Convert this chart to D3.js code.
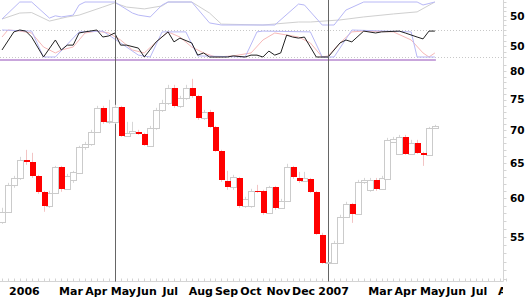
<!DOCTYPE html>
<html>
<head>
<meta charset="utf-8">
<script src="https://cdn.jsdelivr.net/npm/d3@7"></script>
<style>
body { margin: 0; background: #fff; }
svg { display: block; }
text { font-family: "DejaVu Sans", Verdana, sans-serif; font-weight: bold; font-size: 10.5px; fill: #000; }
text.month { font-size: 11px; }
</style>
</head>
<body>
<script>
const width = 526, height = 297;

// weekly bars, Mondays from 26 Dec 2005
const weeks = d3.timeMonday.range(new Date(2005, 11, 26), new Date(2007, 4, 22));

const open  = [56.91,58.22,61.87,62.85,65.46,65.17,63.14,60.91,59.02,60.77,64.43,61.32,62.57,63.57,67.42,67.87,69.73,73.62,71.33,71.33,
               73.78,69.11,69.58,69.73,69.42,67.57,70.37,73.28,74.45,77.02,73.95,75.30,77.02,75.64,71.97,72.95,70.52,66.81,62.43,61.59,
               62.85,59.02,59.02,61.04,61.04,58.09,61.59,58.75,59.68,64.43,62.85,62.43,62.71,60.91,55.27,51.89,51.89,54.28,57.57,59.28,
               57.96,62.29,61.18,62.57,61.32,62.71,68.18,66.36,68.95,66.36,68.03,66.51,66.21,70.37];
const high  = [58.75,62.15,63.14,65.91,66.96,66.51,63.29,61.04,61.04,64.58,64.58,63.43,63.86,67.57,68.18,70.05,73.95,73.95,74.96,74.12,
               73.95,71.33,71.33,70.05,69.58,70.68,73.62,74.96,77.54,77.54,75.64,77.54,78.60,75.81,73.28,73.28,70.68,66.96,63.86,63.29,
               63.00,60.22,61.32,61.87,61.18,61.73,61.73,59.95,64.88,64.58,63.71,63.71,62.85,61.04,55.52,52.00,54.53,57.83,59.55,59.41,
               62.57,62.85,62.85,62.85,63.14,68.80,68.95,69.26,69.26,68.49,68.49,66.66,70.52,70.85];
const low   = [56.66,58.09,61.46,62.57,64.73,62.85,60.63,58.22,58.75,60.63,60.91,61.18,62.15,63.43,66.96,67.57,69.58,71.01,71.01,71.01,
               68.95,68.95,69.42,69.26,67.57,67.42,70.05,72.95,74.12,73.62,73.62,74.96,75.30,71.65,71.65,70.37,66.66,62.29,61.18,61.18,
               58.75,58.75,58.75,60.77,57.83,57.96,58.48,58.62,59.55,62.71,62.15,62.29,60.77,55.27,51.78,51.78,51.78,54.16,57.44,56.78,
               57.83,62.01,60.91,61.04,61.18,62.57,68.03,66.21,66.21,66.21,66.36,64.58,66.06,70.21];
const close = [58.22,61.87,62.85,65.46,65.17,63.14,60.91,59.02,60.77,64.43,61.32,63.14,63.71,67.42,67.87,69.73,73.62,71.33,71.40,73.78,
               69.11,69.58,69.89,69.42,67.72,70.37,73.28,74.45,77.02,73.95,75.30,77.02,75.64,71.97,72.95,70.52,66.81,62.57,61.59,63.00,
               59.02,59.95,61.04,60.91,58.09,61.59,58.75,59.68,64.43,63.00,62.43,62.85,60.91,55.39,51.89,51.95,54.28,57.57,59.28,57.96,
               62.29,62.57,62.57,61.32,62.85,68.49,68.64,68.95,66.36,68.03,66.51,66.21,70.37,70.68];

// upper panel: [week index, value 0-100]
const upperBlue = [[0,26],[3,100],[5,100],[8,30],[9,40],[10,35],[12,43],[13,87],[14,100],[19,100],[22,52],[23,43],[25,35],[27,87],
                   [28,100],[32,100],[35,9],[37,0],[46,0],[50,91],[51,87],[54,0],[56,0],[58,65],[61,100],[70,100],[71,87],[73,100]];
const upperGray = [[0,26],[3,52],[5,54],[8,17],[11,35],[13,43],[17,78],[19,96],[21,78],[24,70],[27,83],[28,100],[32,100],[35,52],
                   [37,4],[44,0],[50,13],[52,13],[57,22],[61,35],[66,48],[70,57],[73,100]];
// lower panel
const lowerBlack = [[0,26],[2,93],[3,100],[4,96],[5,74],[7,0],[9,63],[10,26],[11,44],[12,44],[13,89],[14,93],[16,100],[17,74],
                    [18,78],[19,89],[20,44],[21,44],[23,33],[24,0],[26,56],[28,93],[29,56],[30,70],[32,52],[33,7],[34,15],[35,0],
                    [38,0],[39,4],[41,0],[42,7],[43,7],[44,0],[45,22],[46,7],[47,15],[48,81],[49,74],[50,70],[51,74],[53,0],
                    [55,0],[57,52],[58,63],[59,56],[61,96],[63,89],[64,93],[67,96],[68,89],[70,74],[71,67],[72,96],[73,96]];
const lowerBlue = [[0,100],[5,96],[7,0],[9,0],[13,93],[17,96],[20,52],[23,7],[25,0],[27,93],[31,93],[33,4],[41,0],[43,93],
                   [44,96],[52,93],[54,0],[56,0],[59,100],[69,93],[70,0],[73,0]];
const lowerPink = [[0,74],[1,100],[3,96],[5,89],[7,37],[9,15],[10,26],[12,37],[14,89],[16,96],[18,89],[20,63],[22,26],[24,15],
                   [26,56],[28,93],[30,74],[32,37],[34,15],[36,0],[39,4],[42,15],[44,63],[46,89],[50,74],[52,52],[54,0],[55,4],
                   [57,52],[59,93],[61,96],[66,93],[69,63],[71,15],[72,0],[73,15]];

const priceTicks = [80, 75, 70, 65, 60, 55];
const monthDates = ["2006-01-01","2006-03-01","2006-04-01","2006-05-01","2006-06-01","2006-07-01","2006-08-01","2006-09-01",
                    "2006-10-01","2006-11-01","2006-12-01","2007-01-01","2007-03-01","2007-04-01","2007-05-01","2007-06-01",
                    "2007-07-01","2007-08-01"];
const monthLabels = ["2006","Mar","Apr","May","Jun","Jul","Aug","Sep","Oct","Nov","Dec","2007","Mar","Apr","May","Jun","Jul","Aug"];
const markerWeeks = [19, 55];

const svg = d3.select("body").append("svg").attr("width", width).attr("height", height);

const x = d3.scaleTime()
  .domain([new Date(2005, 11, 26), new Date(2007, 7, 6)])
  .range([2, 2 + 84 * 5.93]);
const y = d3.scaleLog().domain([55, 80]).range([237, 71]);
const yUp = d3.scaleLinear().domain([0, 100]).range([25, 2]);
const yLo = d3.scaleLinear().domain([0, 100]).range([57, 30]);

const axisX = 503.5, axisY = 281.5;

// right axis line + minor ticks
svg.append("line").attr("x1", axisX).attr("x2", axisX).attr("y1", 0).attr("y2", axisY)
  .attr("stroke", "#d4d4d4");
svg.selectAll(".ptick").data(d3.range(50, 82)).join("line")
  .attr("x1", axisX).attr("x2", axisX + 3)
  .attr("y1", d => Math.round(y(d)) + 0.5).attr("y2", d => Math.round(y(d)) + 0.5)
  .attr("stroke", "#d4d4d4");
svg.selectAll(".otick").data([0, 20, 40, 60, 80, 100]).join("line")
  .attr("x1", axisX).attr("x2", axisX + 3)
  .attr("y1", d => Math.round(yUp(d)) + 0.5).attr("y2", d => Math.round(yUp(d)) + 0.5)
  .attr("stroke", "#d4d4d4");
svg.selectAll(".otick2").data([0, 20, 40, 60, 80, 100]).join("line")
  .attr("x1", axisX).attr("x2", axisX + 3)
  .attr("y1", d => Math.round(yLo(d)) + 0.5).attr("y2", d => Math.round(yLo(d)) + 0.5)
  .attr("stroke", "#d4d4d4");

// bottom axis
svg.append("line").attr("x1", 0).attr("x2", axisX).attr("y1", axisY).attr("y2", axisY).attr("stroke", "#d4d4d4");
svg.selectAll(".wtick").data(d3.timeMonday.range(new Date(2005, 11, 26), new Date(2007, 7, 20))).join("line")
  .attr("x1", d => Math.round(x(d)) + 0.5).attr("x2", d => Math.round(x(d)) + 0.5)
  .attr("y1", axisY - 3).attr("y2", axisY)
  .attr("stroke", "#d4d4d4");

// reference lines in oscillator panel
svg.selectAll(".ref").data([100, 0]).join("line")
  .attr("x1", 0).attr("x2", axisX)
  .attr("y1", d => Math.round(yLo(d)) + 0.5).attr("y2", d => Math.round(yLo(d)) + 0.5)
  .attr("stroke", "#c8c8c8").attr("stroke-dasharray", "1,2");

// purple baseline under oscillator
svg.append("line")
  .attr("x1", 0).attr("x2", x(weeks[weeks.length - 1]) + 1)
  .attr("y1", 60).attr("y2", 60)
  .attr("stroke", "#c9a6dc").attr("stroke-width", 2);

const wx = i => x(weeks[i]);
const upperLine = d3.line().x(d => wx(d[0])).y(d => yUp(d[1]));
const lowerLine = d3.line().x(d => wx(d[0])).y(d => yLo(d[1]));

svg.append("path").datum(upperGray).attr("d", upperLine).attr("fill", "none").attr("stroke", "#cfcfcf");
svg.append("path").datum(upperBlue).attr("d", upperLine).attr("fill", "none").attr("stroke", "#b8b8f6");
svg.append("path").datum(lowerPink).attr("d", lowerLine).attr("fill", "none").attr("stroke", "#f6b8b8");
svg.append("path").datum(lowerBlue).attr("d", lowerLine).attr("fill", "none").attr("stroke", "#b8b8f6");
svg.append("path").datum(lowerBlack).attr("d", lowerLine).attr("fill", "none").attr("stroke", "#222");

// marker lines
svg.selectAll(".marker").data(markerWeeks).join("line")
  .attr("x1", d => Math.round(wx(d)) + 0.5).attr("x2", d => Math.round(wx(d)) + 0.5)
  .attr("y1", 0).attr("y2", axisY)
  .attr("stroke", "#666");

// candles
const bars = weeks.map((d, i) => ({ date: d, o: open[i], h: high[i], l: low[i], c: close[i] }));
const g = svg.append("g");
g.selectAll(".wick").data(bars).join("line")
  .attr("x1", d => Math.round(x(d.date)) + 0.5).attr("x2", d => Math.round(x(d.date)) + 0.5)
  .attr("y1", d => y(d.h)).attr("y2", d => y(d.l))
  .attr("stroke", d => d.c < d.o ? "#f2c4c4" : "#d6d6d6");
g.selectAll(".up").data(bars.filter(d => d.c >= d.o)).join("rect")
  .attr("x", d => Math.round(x(d.date)) - 2.5)
  .attr("y", d => Math.round(y(d.c)) + 0.5)
  .attr("width", 6)
  .attr("height", d => Math.max(0, Math.round(y(d.o)) - Math.round(y(d.c))))
  .attr("fill", "#fff").attr("stroke", "#cbcbcb");
g.selectAll(".down").data(bars.filter(d => d.c < d.o)).join("rect")
  .attr("x", d => Math.round(x(d.date)) - 2)
  .attr("y", d => Math.round(y(d.o)))
  .attr("width", 6)
  .attr("height", d => Math.max(1, Math.round(y(d.c)) - Math.round(y(d.o))))
  .attr("fill", "#ff0000");

// labels
svg.selectAll(".plabel").data(priceTicks).join("text")
  .attr("x", 510).attr("y", d => y(d)).attr("dy", "0.36em").text(d => d);
svg.append("text").attr("x", 510).attr("y", 16).attr("dy", "0.36em").text("50");
svg.append("text").attr("x", 510).attr("y", 46).attr("dy", "0.36em").text("50");

svg.append("clipPath").attr("id", "xclip").append("rect").attr("x", 0).attr("y", 283).attr("width", 503).attr("height", 14);
svg.append("g").attr("clip-path", "url(#xclip)")
  .selectAll("text").data(monthDates).join("text")
  .attr("class", "month")
  .attr("x", d => x(d3.timeParse("%Y-%m-%d")(d)) + 2)
  .attr("y", 295)
  .text((d, i) => monthLabels[i]);
</script>
</body>
</html>
